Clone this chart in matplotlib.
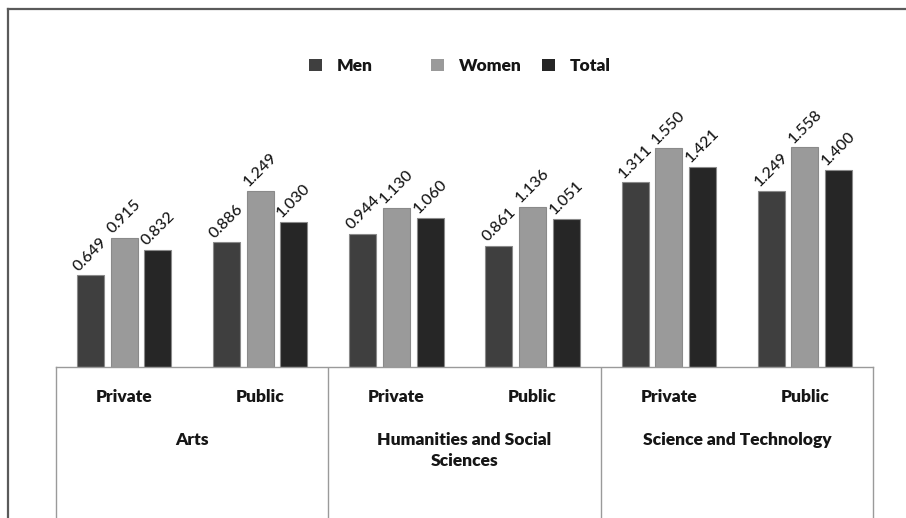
import matplotlib
matplotlib.use("Agg")
import matplotlib.pyplot as plt
from matplotlib.lines import Line2D
from matplotlib.patches import Patch
import numpy as np

plt.rcParams['font.family'] = ['Lato', 'DejaVu Sans']

# Data
fields = ["Arts", "Humanities and Social\nSciences", "Science and Technology"]
sectors = ["Private", "Public"]
series = ["Men", "Women", "Total"]
men = [0.649, 0.886, 0.944, 0.861, 1.311, 1.249]
women = [0.915, 1.249, 1.130, 1.136, 1.550, 1.558]
total = [0.832, 1.030, 1.060, 1.051, 1.421, 1.400]
values = [men, women, total]
colors = ["#3f3f3f", "#9a9a9a", "#262626"]

W, H = 906, 518
fig = plt.figure(figsize=(W / 100, H / 100), dpi=100)

def fx(px):
    return px / W

def fy(py):
    return 1 - py / H

x_left, x_right = 56, 873
y_base, y_top = 367, 85

ax = fig.add_axes([fx(x_left), fy(y_base), fx(x_right - x_left), fy(y_top) - fy(y_base)])
axt = fig.add_axes([fx(x_left), 0, fx(x_right - x_left), fy(y_base)])

n = len(men)
x = np.arange(n)
pitch = 0.247
width = 0.198
offsets = [-pitch, 0, pitch]
txt_col = "#161616"

for vals, col, off, name in zip(values, colors, offsets, series):
    bars = ax.bar(x + off, vals, width=width, color=col, edgecolor="#8a8a8a",
                  linewidth=0.8, label=name, zorder=2)
    for b, v in zip(bars, vals):
        ax.annotate(f"{v:.3f}", (b.get_x() + b.get_width() / 2, v),
                    xytext=(0, 1.0), textcoords="offset points",
                    rotation=45, ha="center", va="bottom",
                    fontsize=11.5, fontweight="medium", color=txt_col)

ax.set_xlim(-0.5, n - 0.5)
ax.set_ylim(0, 2.0)
ax.set_xticks([])
ax.set_yticks([])
for s in ["top", "left", "right", "bottom"]:
    ax.spines[s].set_visible(False)

# Category table under the bars
axt.set_xlim(-0.5, n - 0.5)
axt.set_ylim(H - y_base, 0)
axt.set_xticks([])
axt.set_yticks([])
axt.spines["bottom"].set_visible(False)
for s in ["top", "left", "right"]:
    axt.spines[s].set_color("#9a9a9a")
    axt.spines[s].set_linewidth(1.0)
for xv in [1.5, 3.5]:
    axt.axvline(xv, color="#9a9a9a", linewidth=1.0)

for i in range(n):
    axt.text(i, 397 - y_base, sectors[i % 2], ha="center", va="center",
             fontsize=12.5, fontweight="heavy", color=txt_col)
for j, f in enumerate(fields):
    axt.text(2 * j + 0.5, 432 - y_base, f, ha="center", va="top",
             fontsize=12.5, fontweight="heavy", color=txt_col,
             linespacing=1.4, multialignment="center")

# Legend entries placed individually along the top
legend_x = [309, 431, 542]
for name, col, lx in zip(series, colors, legend_x):
    h = Patch(facecolor=col, edgecolor="none")
    lg = fig.legend(handles=[h], labels=[name], loc="center left",
                    bbox_to_anchor=(fx(lx), fy(66)), frameon=False,
                    handlelength=0.75, handleheight=0.75, handletextpad=0.85,
                    borderpad=0, borderaxespad=0,
                    prop={"size": 12.5, "weight": "heavy"})
    for t in lg.get_texts():
        t.set_color(txt_col)

# Outer frame (top and left edges)
frame_col = "#5a5a5a"
fig.add_artist(Line2D([fx(8), 1.0], [fy(9), fy(9)], color=frame_col, linewidth=1.6,
                      transform=fig.transFigure))
fig.add_artist(Line2D([fx(8), fx(8)], [fy(9), 0.0], color=frame_col, linewidth=1.6,
                      transform=fig.transFigure))

fig.savefig("out.png", dpi=100)
